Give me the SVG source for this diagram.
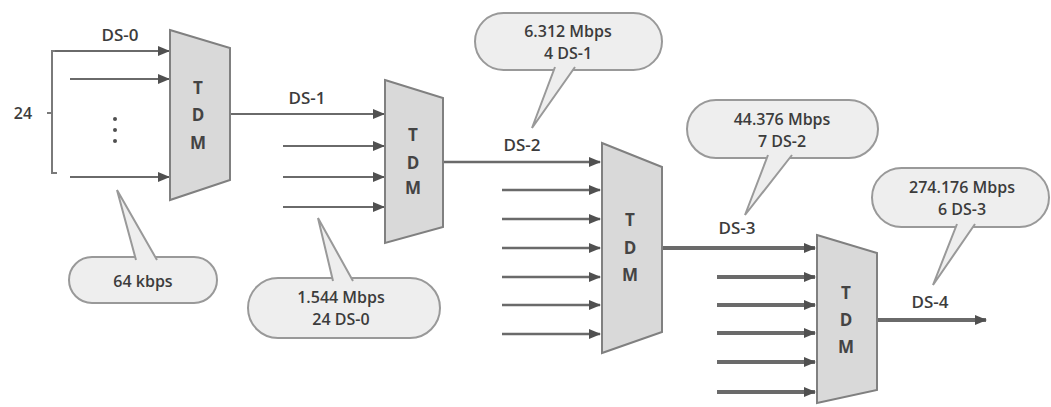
<svg xmlns="http://www.w3.org/2000/svg" width="1051" height="407" viewBox="0 0 1051 407">
<style>
.tdm{fill:#d9d9d9;stroke:#808080;stroke-width:2}
.ln{stroke:#6a6a6a;fill:none;marker-end:url(#ah)}
.t1{stroke-width:2}
.t2{stroke-width:2.5}
.t3{stroke-width:4}
.bub{fill:#eeeeee;stroke:#999;stroke-width:2}
.tl{fill:#eeeeee;stroke:#999;stroke-width:2}
text{font-family:"Open Sans","Liberation Sans",sans-serif;font-size:17px;font-weight:600;fill:#3c3c3c;text-anchor:middle}
.bt{font-size:16px}
.big{font-size:17px;font-weight:bold;fill:#444}
</style>
<defs>
<marker id="ah" markerUnits="userSpaceOnUse" markerWidth="12" markerHeight="10" refX="11" refY="5" orient="auto">
<path d="M0,0 L12,5 L0,10 Z" fill="#505050"/>
</marker>
</defs>
<rect width="1051" height="407" fill="#fff"/>
<g id="connectors">
<path d="M70,51 H52 V173 H57" stroke="#7a7a7a" stroke-width="2" fill="none"/>
<path d="M52,113 H47" stroke="#7a7a7a" stroke-width="2"/>
<line class="ln t1" x1="55" y1="51" x2="169" y2="51"/>
<line class="ln t1" x1="70" y1="79" x2="169" y2="79"/>
<line class="ln t1" x1="70" y1="177" x2="169" y2="177"/>
<line class="ln t1" x1="230" y1="114" x2="384" y2="114"/>
<line class="ln t1" x1="283" y1="146" x2="384" y2="146"/>
<line class="ln t1" x1="283" y1="177" x2="384" y2="177"/>
<line class="ln t1" x1="283" y1="207" x2="384" y2="207"/>
<line class="ln t2" x1="443" y1="162" x2="600" y2="162"/>
<line class="ln t2" x1="502" y1="190" x2="600" y2="190"/>
<line class="ln t2" x1="502" y1="219" x2="600" y2="219"/>
<line class="ln t2" x1="502" y1="248" x2="600" y2="248"/>
<line class="ln t2" x1="502" y1="277" x2="600" y2="277"/>
<line class="ln t2" x1="502" y1="305" x2="600" y2="305"/>
<line class="ln t2" x1="502" y1="334" x2="600" y2="334"/>
<line class="ln t3" x1="662" y1="248" x2="815" y2="248"/>
<line class="ln t3" x1="717" y1="277" x2="815" y2="277"/>
<line class="ln t3" x1="717" y1="305" x2="815" y2="305"/>
<line class="ln t3" x1="717" y1="333" x2="815" y2="333"/>
<line class="ln t3" x1="717" y1="362" x2="815" y2="362"/>
<line class="ln t3" x1="717" y1="392" x2="815" y2="392"/>
<line class="ln t3" x1="877" y1="320" x2="986" y2="320"/>
</g>
<g id="labels">
<text x="23" y="119" style="font-size:16px">24</text>
<text x="120" y="41">DS-0</text>
<text x="307" y="104">DS-1</text>
<text x="522" y="151">DS-2</text>
<text x="737" y="234">DS-3</text>
<text x="930" y="308">DS-4</text>
<circle cx="115" cy="119" r="2" fill="#505050"/>
<circle cx="115" cy="130" r="2" fill="#505050"/>
<circle cx="115" cy="141" r="2" fill="#505050"/>
</g>
<g id="tdm1">
<polygon class="tdm" points="170,30 230,48 230,180 170,200"/>
<text class="big" x="198" y="94">T</text>
<text class="big" x="198" y="121">D</text>
<text class="big" x="198" y="149">M</text>
</g>
<g id="tdm2">
<polygon class="tdm" points="385,80 443,98 443,227 385,243"/>
<text class="big" x="413" y="141">T</text>
<text class="big" x="413" y="169">D</text>
<text class="big" x="413" y="194">M</text>
</g>
<g id="tdm3">
<polygon class="tdm" points="602,143 662,167 662,332 602,353"/>
<text class="big" x="630" y="226">T</text>
<text class="big" x="630" y="254">D</text>
<text class="big" x="630" y="281">M</text>
</g>
<g id="tdm4">
<polygon class="tdm" points="817,235 877,253 877,390 817,403"/>
<text class="big" x="846" y="299">T</text>
<text class="big" x="846" y="326">D</text>
<text class="big" x="846" y="353">M</text>
</g>
<g id="callout-64kbps">
<rect class="bub" x="69" y="257" width="148" height="46" rx="23"/>
<path class="tl" d="M136,260 L117,190 L157,260"/>
<text class="bt" x="143" y="287">64 kbps</text>
</g>
<g id="callout-1544">
<rect class="bub" x="248" y="278" width="192" height="60" rx="30"/>
<path class="tl" d="M333,281 L318,218 L353,281"/>
<text class="bt" x="341" y="303">1.544 Mbps</text>
<text class="bt" x="341" y="325">24 DS-0</text>
</g>
<g id="callout-6312">
<rect class="bub" x="475" y="13" width="187" height="57" rx="28.5"/>
<path class="tl" d="M555,67 L532,128 L575,67"/>
<text class="bt" x="568" y="37">6.312 Mbps</text>
<text class="bt" x="568" y="59">4 DS-1</text>
</g>
<g id="callout-44376">
<rect class="bub" x="687" y="100" width="191" height="58" rx="29"/>
<path class="tl" d="M768,155 L745,215 L792,155"/>
<text class="bt" x="782" y="125">44.376 Mbps</text>
<text class="bt" x="782" y="147">7 DS-2</text>
</g>
<g id="callout-274176">
<rect class="bub" x="872" y="168" width="177" height="59" rx="29.5"/>
<path class="tl" d="M957,224 L933,285 L975,224"/>
<text class="bt" x="962" y="193">274.176 Mbps</text>
<text class="bt" x="962" y="215">6 DS-3</text>
</g>
</svg>
